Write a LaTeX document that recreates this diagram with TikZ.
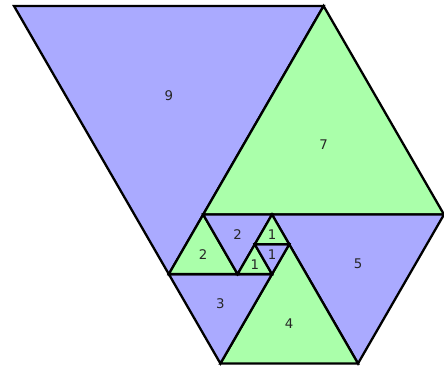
\documentclass[tikz,border=0pt]{standalone}
\usepackage{fontspec}
\setmainfont{DejaVu Sans}
\definecolor{triblue}{HTML}{AAAAFF}
\definecolor{trigreen}{HTML}{AAFFAA}

\begin{document}
\begin{tikzpicture}[x=1cm,y=0.8660254cm,
  tblue/.style={fill=triblue,draw=black,line width=1.9pt},
  tgreen/.style={fill=trigreen,draw=black,line width=1.9pt},
  num/.style={font=\fontsize{11}{13}\selectfont,text=black!85}]
  \useasboundingbox (-0.407,0.201) rectangle (12.5,-12.186);
  % big ones
  \filldraw[tblue]  (0,0) -- (9,0) -- (4.5,-9) -- cycle;
  \node[num] (n9) at (4.5,-3){9};
  \filldraw[tgreen] (9,0) -- (12.5,-7) -- (5.5,-7) -- cycle;
  \node[num] (n7) at (9,-4.667){7};
  \filldraw[tblue]  (7.5,-7) -- (12.5,-7) -- (10,-12) -- cycle;
  \node[num] (n5) at (10,-8.667){5};
  \filldraw[tgreen] (6,-12) -- (10,-12) -- (8,-8) -- cycle;
  \node[num] (n4) at (8,-10.667){4};
  \filldraw[tblue]  (4.5,-9) -- (7.5,-9) -- (6,-12) -- cycle;
  \node[num] (n3) at (6,-10){3};
  % small ones
  \filldraw[tgreen] (4.5,-9) -- (6.5,-9) -- (5.5,-7) -- cycle;
  \node[num] (n2a) at (5.5,-8.333){2};
  \filldraw[tblue]  (5.5,-7) -- (7.5,-7) -- (6.5,-9) -- cycle;
  \node[num] (n2b) at (6.5,-7.667){2};
  \filldraw[tgreen] (6.5,-9) -- (7.5,-9) -- (7,-8) -- cycle;
  \node[num] (n1a) at (7,-8.667){1};
  \filldraw[tblue]  (7,-8) -- (8,-8) -- (7.5,-9) -- cycle;
  \node[num] (n1b) at (7.5,-8.333){1};
  \filldraw[tgreen] (7,-8) -- (8,-8) -- (7.5,-7) -- cycle;
  \node[num] (n1c) at (7.5,-7.667){1};
\end{tikzpicture}
\end{document}
